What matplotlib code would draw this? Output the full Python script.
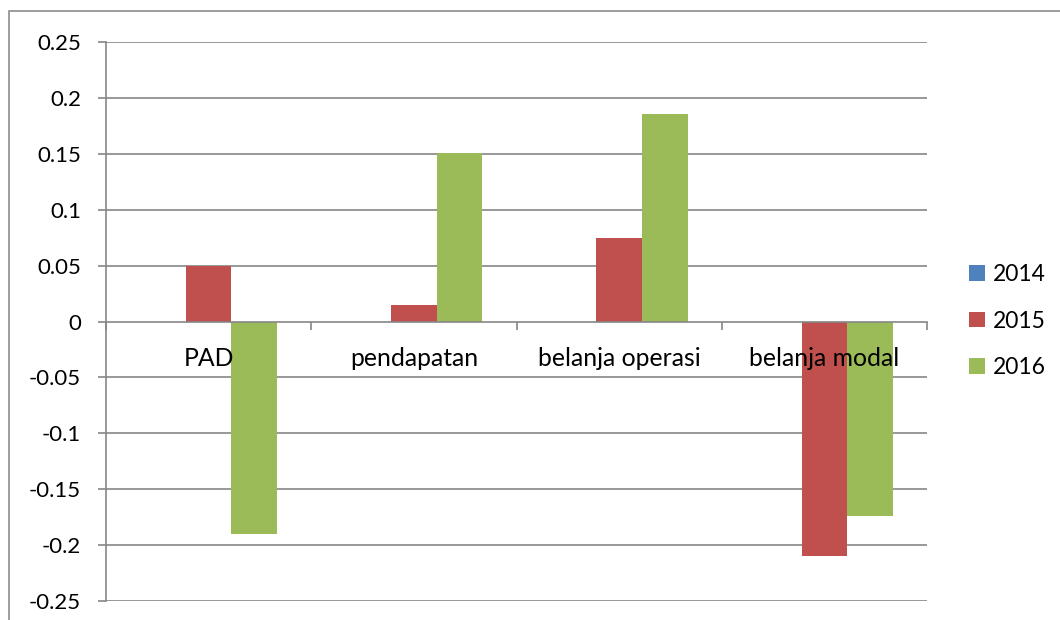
import matplotlib
matplotlib.use("Agg")
import matplotlib.pyplot as plt
from matplotlib.patches import Rectangle
import numpy as np

categories = ["PAD", "pendapatan", "belanja operasi", "belanja modal"]
series_names = ["2014", "2015", "2016"]
v2014 = [0.0, 0.0, 0.0, 0.0]
v2015 = [0.05, 0.015, 0.075, -0.21]
v2016 = [-0.19, 0.151, 0.186, -0.174]
yticks = [-0.25, -0.2, -0.15, -0.1, -0.05, 0, 0.05, 0.1, 0.15, 0.2, 0.25]
ytick_labels = ["-0.25", "-0.2", "-0.15", "-0.1", "-0.05", "0", "0.05", "0.1", "0.15", "0.2", "0.25"]
colors = ["#4F81BD", "#C0504D", "#9BBB59"]

plt.rcParams['font.family'] = ['Lato', 'DejaVu Sans']
GRAY = "#868686"
FS = 16

fig = plt.figure(figsize=(10.6, 6.2), dpi=100)
ax = fig.add_axes([106/1060, 1 - 601/620, (927-106)/1060, (601-42)/620])

# outer chart border
fig.patches.append(Rectangle((9/1060, -0.1), 1.2, 1 - 11/620 + 0.1, transform=fig.transFigure,
                             fill=False, edgecolor="#8c8c8c", linewidth=1.2))

x = np.arange(len(categories))
w = 1/4.5
for i, (vals, c, name) in enumerate(zip([v2014, v2015, v2016], colors, series_names)):
    ax.bar(x + (i - 1) * w, vals, width=w, color=c, label=name, linewidth=0, zorder=1)

ax.set_xlim(-0.5, len(categories) - 0.5)
ax.set_ylim(-0.25, 0.25)
for t in yticks:
    if t != 0:
        ax.axhline(t, color=GRAY, linewidth=1.2, zorder=0.5)

ax.set_axisbelow(False)
for s in ["top", "right"]:
    ax.spines[s].set_visible(False)
ax.spines["left"].set_color(GRAY)
ax.spines["left"].set_linewidth(1.2)
ax.spines["bottom"].set_position(("data", 0))
ax.spines["bottom"].set_color(GRAY)
ax.spines["bottom"].set_linewidth(1.2)

ax.set_yticks(yticks)
ax.set_yticklabels(ytick_labels, fontsize=FS)
ax.tick_params(axis="y", direction="out", length=6, width=1.2, color=GRAY, pad=12)

ax.set_xticks(np.arange(len(categories) + 1) - 0.5)
ax.set_xticklabels([""] * (len(categories) + 1))
ax.tick_params(axis="x", which="major", direction="out", length=6, width=1.2, color=GRAY)
ax.set_xticks(x, minor=True)
ax.set_xticklabels(categories, minor=True, fontsize=17.8)
ax.tick_params(axis="x", which="minor", length=0, pad=18.5)

fig.legend(loc="center left", bbox_to_anchor=(969/1060, 1 - 321/620), frameon=False,
           fontsize=16.5, handlelength=0.68, handleheight=0.68, handletextpad=0.38,
           labelspacing=1.12, borderpad=0, borderaxespad=0)

fig.savefig("out.png", dpi=100)
